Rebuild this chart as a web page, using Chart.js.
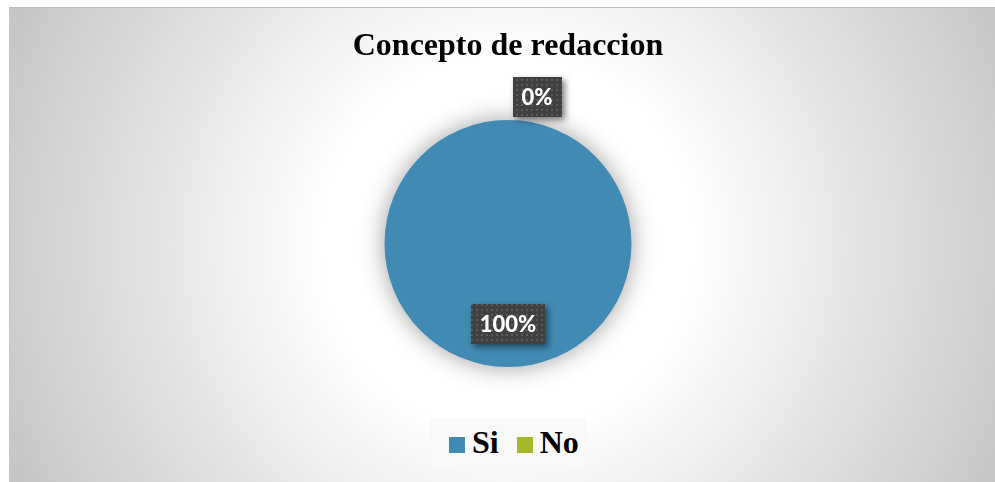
<!DOCTYPE html>
<html><head><meta charset="utf-8">
<script src="https://cdn.jsdelivr.net/npm/chart.js@4/dist/chart.umd.min.js"></script>
<style>
html,body{margin:0;padding:0;background:#fff;width:995px;height:482px;overflow:hidden}
#wrap{position:absolute;left:9px;top:7px;width:985px;height:474px;border-top:1px solid #bdbdbd;border-left:1px solid #c4c4c4;}
#wrap canvas{display:block}
#legend{position:absolute;left:420px;top:411px;width:156px;height:50px;background:#f9f9f9;box-sizing:border-box;padding-left:19px;
  font-family:"Liberation Serif","Times New Roman",serif;font-weight:bold;font-size:32px;line-height:46px;color:#000;white-space:nowrap}
#legend .sw{display:inline-block;width:16px;height:16px;margin-right:7px;vertical-align:baseline}
#legend .item{display:inline}
#legend .item + .item{margin-left:18px}
</style>
</head><body>
<div id="wrap"><canvas id="c" width="985" height="474"></canvas><div id="legend"></div></div>
<script>
const titleText = "Concepto de redaccion";
const categories = ["Si", "No"];
const values = [100, 0];
const colors = ["#418AB3", "#A6B727"];

function makePattern(ctx){
  const p = document.createElement('canvas'); p.width = 5; p.height = 5;
  const g = p.getContext('2d');
  g.fillStyle = '#404040'; g.fillRect(0,0,5,5);
  g.fillStyle = '#5a5a5a'; g.fillRect(1,1,2,2);
  return ctx.createPattern(p, 'repeat');
}
const deco = {
  id: 'deco',
  beforeDraw(chart){
    const ctx = chart.ctx, w = chart.width, h = chart.height;
    const cx = (chart.chartArea.left + chart.chartArea.right)/2;
    const cy = 236;
    const g = ctx.createRadialGradient(cx, cy, 0, cx, cy, 560);
    g.addColorStop(0, '#ffffff');
    g.addColorStop(0.33, '#ffffff');
    g.addColorStop(1, '#c3c3c3');
    ctx.save(); ctx.fillStyle = g; ctx.fillRect(0,0,w,h); ctx.restore();
  },
  beforeDatasetsDraw(chart){
    const ctx = chart.ctx;
    ctx.save();
    ctx.shadowColor = 'rgba(0,0,0,0.38)';
    ctx.shadowBlur = 24;
    ctx.shadowOffsetX = 0; ctx.shadowOffsetY = 0;
  },
  afterDatasetsDraw(chart){
    const ctx = chart.ctx;
    ctx.restore();
    const meta = chart.getDatasetMeta(0);
    const data = chart.data.datasets[0].data;
    const total = data.reduce((a,b)=>a+b,0);
    const pat = makePattern(ctx);
    ctx.save();
    ctx.font = '900 22px Lato, "Open Sans", sans-serif';
    meta.data.forEach((arc, i) => {
      const p = arc.getProps(['x','y','startAngle','endAngle','outerRadius'], true);
      const v = data[i];
      const txt = Math.round(v/total*100) + '%';
      let px, py;
      if (v === 0) {
        const a = p.startAngle;
        px = p.x + Math.cos(a)*(p.outerRadius+23) + 29;
        py = p.y + Math.sin(a)*(p.outerRadius+23);
      } else {
        const a = (p.startAngle + p.endAngle)/2;
        px = p.x + Math.cos(a)*p.outerRadius*0.65;
        py = p.y + Math.sin(a)*p.outerRadius*0.65;
      }
      const tw = ctx.measureText(txt).width;
      const bw = tw + 18, bh = 40;
      ctx.save();
      ctx.shadowColor = 'rgba(0,0,0,0.5)';
      ctx.shadowBlur = 6; ctx.shadowOffsetX = 3; ctx.shadowOffsetY = 3;
      ctx.fillStyle = pat;
      ctx.fillRect(Math.round(px - bw/2), Math.round(py - bh/2), Math.round(bw), bh);
      ctx.restore();
      ctx.fillStyle = '#ffffff';
      ctx.textAlign = 'center'; ctx.textBaseline = 'middle';
      ctx.fillText(txt, px, py + 1);
    });
    ctx.restore();
  }
};

new Chart(document.getElementById('c'), {
  type: 'pie',
  data: {
    labels: categories,
    datasets: [{ data: values, backgroundColor: colors, borderWidth: 0 }]
  },
  options: {
    responsive: false,
    animation: false,
    layout: { padding: { left: 11, right: 0, top: 0, bottom: 115 } },
    plugins: {
      legend: { display: false },
      tooltip: { enabled: false },
      title: {
        display: true, text: titleText, color: '#000',
        font: { family: '"Liberation Serif", "Times New Roman", serif', size: 32, weight: 'bold' },
        padding: { top: 20, bottom: 53.6 }
      }
    }
  },
  plugins: [deco]
});

const lg = document.getElementById('legend');
categories.forEach((c, i) => {
  const it = document.createElement('span'); it.className = 'item';
  const sw = document.createElement('span'); sw.className = 'sw'; sw.style.background = colors[i];
  it.appendChild(sw); it.appendChild(document.createTextNode(c));
  lg.appendChild(it);
});
</script>
</body></html>
